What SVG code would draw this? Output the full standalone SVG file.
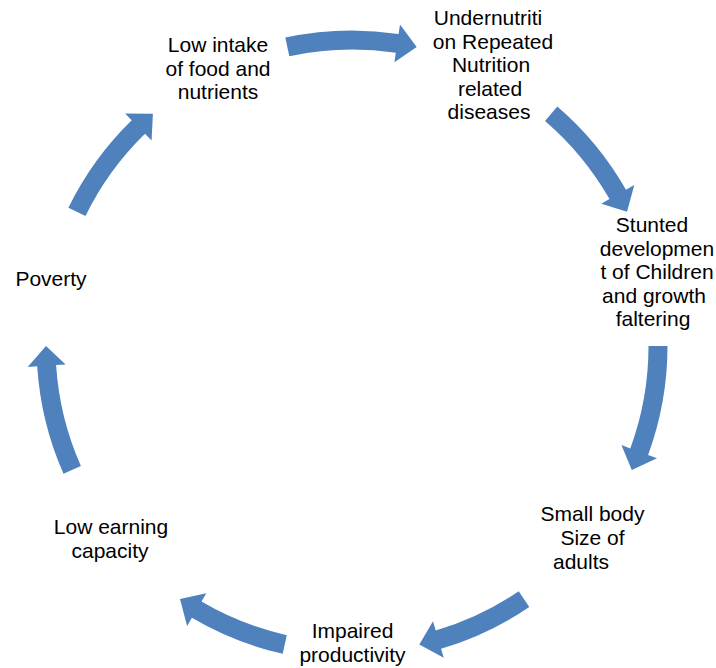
<svg xmlns="http://www.w3.org/2000/svg" width="716" height="668" viewBox="0 0 716 668">
<style>
.arr{fill:#4F81BD;stroke:none}
.t{font-family:"Liberation Sans",Arial,sans-serif;font-size:21px;fill:#000;text-anchor:middle}
</style>
<rect width="716" height="668" fill="#fff"/>
<g id="connectors">
<path class="arr" d="M285.3,37.6 A315.5,315.5 0 0 1 398.6,34.0 L400.0,24.6 L416.7,46.9 L394.4,62.2 L395.8,52.8 A296.5,296.5 0 0 0 289.3,56.2 Z"/>
<path class="arr" d="M557.3,106.4 A315.5,315.5 0 0 1 626.0,189.7 L634.3,185.0 L627.0,211.8 L601.3,203.8 L609.5,199.1 A296.5,296.5 0 0 0 545.0,120.9 Z"/>
<path class="arr" d="M667.5,346 A315.5,315.5 0 0 1 648.1,454.9 L657.0,458.2 L631.8,470.0 L621.4,445.1 L630.3,448.4 A296.5,296.5 0 0 0 648.5,346 Z"/>
<path class="arr" d="M529.3,607.0 A315.5,315.5 0 0 1 441.1,648.7 L443.7,657.8 L419.3,644.5 L433.0,621.3 L435.7,630.4 A296.5,296.5 0 0 0 518.7,591.2 Z"/>
<path class="arr" d="M282.7,653.8 A315.5,315.5 0 0 1 191.9,617.8 L187.1,626.0 L180.0,599.1 L206.3,593.3 L201.5,601.5 A296.5,296.5 0 0 0 286.8,635.2 Z"/>
<path class="arr" d="M63.5,473.8 A315.5,315.5 0 0 1 37.2,366.3 L27.7,367.0 L46,346 L65.6,364.5 L56.1,365.1 A296.5,296.5 0 0 0 80.9,466.1 Z"/>
<path class="arr" d="M68.4,207.7 A315.5,315.5 0 0 1 131.7,120.2 L125.1,113.4 L152.9,113.7 L151.6,140.6 L145.0,133.8 A296.5,296.5 0 0 0 85.5,216.0 Z"/>
</g>
<g id="node-low-intake">
<text class="t" x="218" y="52">Low intake</text>
<text class="t" x="218" y="75.5">of food and</text>
<text class="t" x="218" y="99">nutrients</text>
</g>
<g id="node-undernutrition">
<text class="t" x="488" y="25">Undernutriti</text>
<text class="t" x="493" y="48.5">on Repeated</text>
<text class="t" x="491" y="72">Nutrition</text>
<text class="t" x="490" y="95.5">related</text>
<text class="t" x="489" y="119">diseases</text>
</g>
<g id="node-stunted">
<text class="t" x="652" y="232">Stunted</text>
<text class="t" x="657" y="255.5">developmen</text>
<text class="t" x="657" y="279">t of Children</text>
<text class="t" x="654" y="302.5">and growth</text>
<text class="t" x="653" y="326">faltering</text>
</g>
<g id="node-small-body">
<text class="t" x="592.5" y="521">Small body</text>
<text class="t" x="592.5" y="545">Size of</text>
<text class="t" x="581" y="569">adults</text>
</g>
<g id="node-impaired">
<text class="t" x="352.5" y="638">Impaired</text>
<text class="t" x="352.5" y="661.5">productivity</text>
</g>
<g id="node-low-earning">
<text class="t" x="111" y="534">Low earning</text>
<text class="t" x="110" y="557.5">capacity</text>
</g>
<g id="node-poverty">
<text class="t" x="51" y="286">Poverty</text>
</g>
</svg>
